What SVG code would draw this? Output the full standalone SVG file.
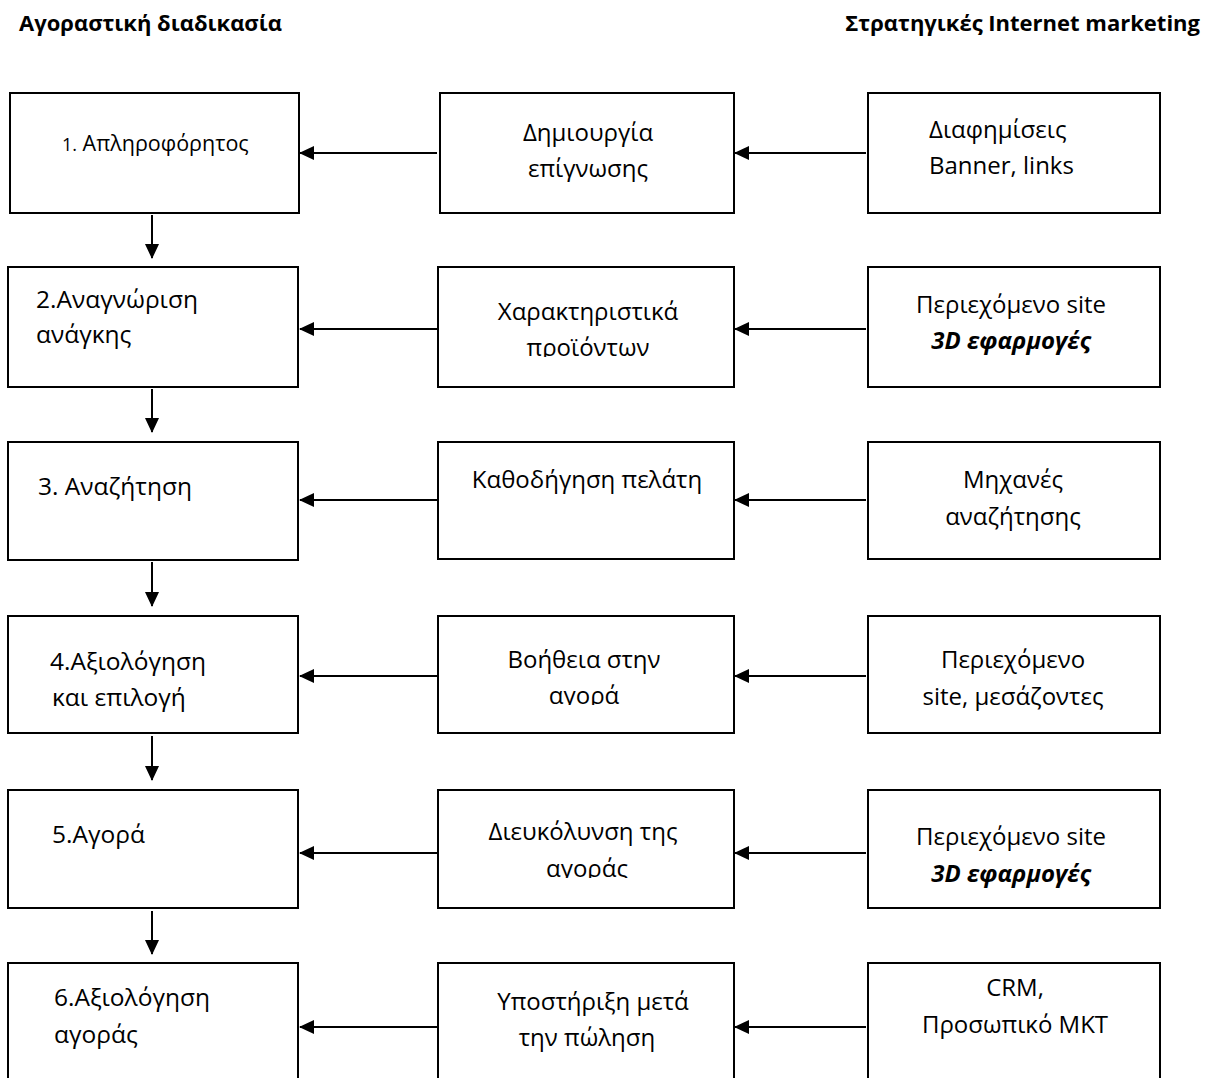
<svg xmlns="http://www.w3.org/2000/svg" width="1212" height="1078" viewBox="0 0 1212 1078">
<style>
.box{fill:#fff;stroke:#000;stroke-width:2}
.hdr{font-family:"Open Sans","DejaVu Sans",sans-serif;font-weight:bold;font-size:22px;fill:#000}
.l{font-family:"Open Sans","DejaVu Sans",sans-serif;font-size:24.5px;fill:#000}
.m{font-family:"Open Sans","DejaVu Sans",sans-serif;font-size:24px;fill:#000;text-anchor:middle}
.r{font-family:"Open Sans","DejaVu Sans",sans-serif;font-size:24px;fill:#000}
.bi{font-weight:bold;font-style:italic}
.con line{stroke:#000;stroke-width:2;marker-end:url(#ah)}
</style>
<defs>
<marker id="ah" markerWidth="16" markerHeight="16" refX="0" refY="0" orient="auto" markerUnits="userSpaceOnUse" viewBox="-15 -8 16 16" overflow="visible">
<path d="M1,0 L-14,-7 L-14,7 Z" fill="#000"/>
</marker>
<clipPath id="c1"><rect x="440" y="93" width="294" height="89"/></clipPath>
<clipPath id="c2"><rect x="438" y="267" width="296" height="90"/></clipPath>
<clipPath id="c4"><rect x="438" y="616" width="296" height="89"/></clipPath>
<clipPath id="c5"><rect x="438" y="790" width="296" height="88"/></clipPath>
</defs>
<text class="hdr" x="19" y="31">Αγοραστική διαδικασία</text>
<text class="hdr" x="1200" y="31" text-anchor="end">Στρατηγικές Internet marketing</text>

<g class="con">
<line x1="437" y1="153" x2="300" y2="153"/>
<line x1="866" y1="153" x2="735" y2="153"/>
<line x1="437" y1="329" x2="300" y2="329"/>
<line x1="866" y1="329" x2="735" y2="329"/>
<line x1="437" y1="500" x2="300" y2="500"/>
<line x1="866" y1="500" x2="735" y2="500"/>
<line x1="437" y1="676" x2="300" y2="676"/>
<line x1="866" y1="676" x2="735" y2="676"/>
<line x1="437" y1="853" x2="300" y2="853"/>
<line x1="866" y1="853" x2="735" y2="853"/>
<line x1="437" y1="1027" x2="300" y2="1027"/>
<line x1="866" y1="1027" x2="735" y2="1027"/>
<line x1="152" y1="215" x2="152" y2="258"/>
<line x1="152" y1="389" x2="152" y2="432"/>
<line x1="152" y1="562" x2="152" y2="606"/>
<line x1="152" y1="736" x2="152" y2="780"/>
<line x1="152" y1="911" x2="152" y2="954"/>
</g>

<g id="n1"><rect class="box" x="10" y="93" width="289" height="120"/><text class="l" x="62" y="151" style="font-size:21.5px"><tspan style="font-size:18px">1.</tspan> Απληροφόρητος</text></g>
<g id="m1"><rect class="box" x="440" y="93" width="294" height="120"/><g clip-path="url(#c1)"><text class="m" x="588" y="141">Δημιουργία</text><text class="m" x="588" y="177">επίγνωσης</text></g></g>
<g id="r1"><rect class="box" x="868" y="93" width="292" height="120"/><text class="r" x="929" y="138">Διαφημίσεις</text><text class="r" x="929" y="174">Banner, links</text></g>

<g id="n2"><rect class="box" x="8" y="267" width="290" height="120"/><text class="l" x="36" y="308">2.Αναγνώριση</text><text class="l" x="36" y="343">ανάγκης</text></g>
<g id="m2"><rect class="box" x="438" y="267" width="296" height="120"/><g clip-path="url(#c2)"><text class="m" x="588" y="320">Χαρακτηριστικά</text><text class="m" x="588" y="356">προϊόντων</text></g></g>
<g id="r2"><rect class="box" x="868" y="267" width="292" height="120"/><text class="m" x="1011" y="313">Περιεχόμενο site</text><text class="m bi" x="1011" y="349">3D εφαρμογές</text></g>

<g id="n3"><rect class="box" x="8" y="442" width="290" height="118"/><text class="l" x="38" y="495">3. Αναζήτηση</text></g>
<g id="m3"><rect class="box" x="438" y="442" width="296" height="117"/><text class="m" x="587" y="488">Καθοδήγηση πελάτη</text></g>
<g id="r3"><rect class="box" x="868" y="442" width="292" height="117"/><text class="m" x="1013" y="488">Μηχανές</text><text class="m" x="1013" y="525">αναζήτησης</text></g>

<g id="n4"><rect class="box" x="8" y="616" width="290" height="117"/><text class="l" x="50" y="670">4.Αξιολόγηση</text><text class="l" x="52" y="706">και επιλογή</text></g>
<g id="m4"><rect class="box" x="438" y="616" width="296" height="117"/><g clip-path="url(#c4)"><text class="m" x="584" y="668">Βοήθεια στην</text><text class="m" x="584" y="704">αγορά</text></g></g>
<g id="r4"><rect class="box" x="868" y="616" width="292" height="117"/><text class="m" x="1013" y="668">Περιεχόμενο</text><text class="m" x="1013" y="705">site, μεσάζοντες</text></g>

<g id="n5"><rect class="box" x="8" y="790" width="290" height="118"/><text class="l" x="52" y="843">5.Αγορά</text></g>
<g id="m5"><rect class="box" x="438" y="790" width="296" height="118"/><g clip-path="url(#c5)"><text class="m" x="583" y="840">Διευκόλυνση της</text><text class="m" x="587" y="877">αγοράς</text></g></g>
<g id="r5"><rect class="box" x="868" y="790" width="292" height="118"/><text class="m" x="1011" y="845">Περιεχόμενο site</text><text class="m bi" x="1011" y="882">3D εφαρμογές</text></g>

<g id="n6"><rect class="box" x="8" y="963" width="290" height="130"/><text class="l" x="54" y="1006">6.Αξιολόγηση</text><text class="l" x="54" y="1043">αγοράς</text></g>
<g id="m6"><rect class="box" x="438" y="963" width="296" height="130"/><text class="m" x="593" y="1010">Υποστήριξη μετά</text><text class="m" x="587" y="1046">την πώληση</text></g>
<g id="r6"><rect class="box" x="868" y="963" width="292" height="130"/><text class="m" x="1015" y="996">CRM,</text><text class="m" x="1015" y="1033">Προσωπικό ΜΚΤ</text></g>
</svg>
